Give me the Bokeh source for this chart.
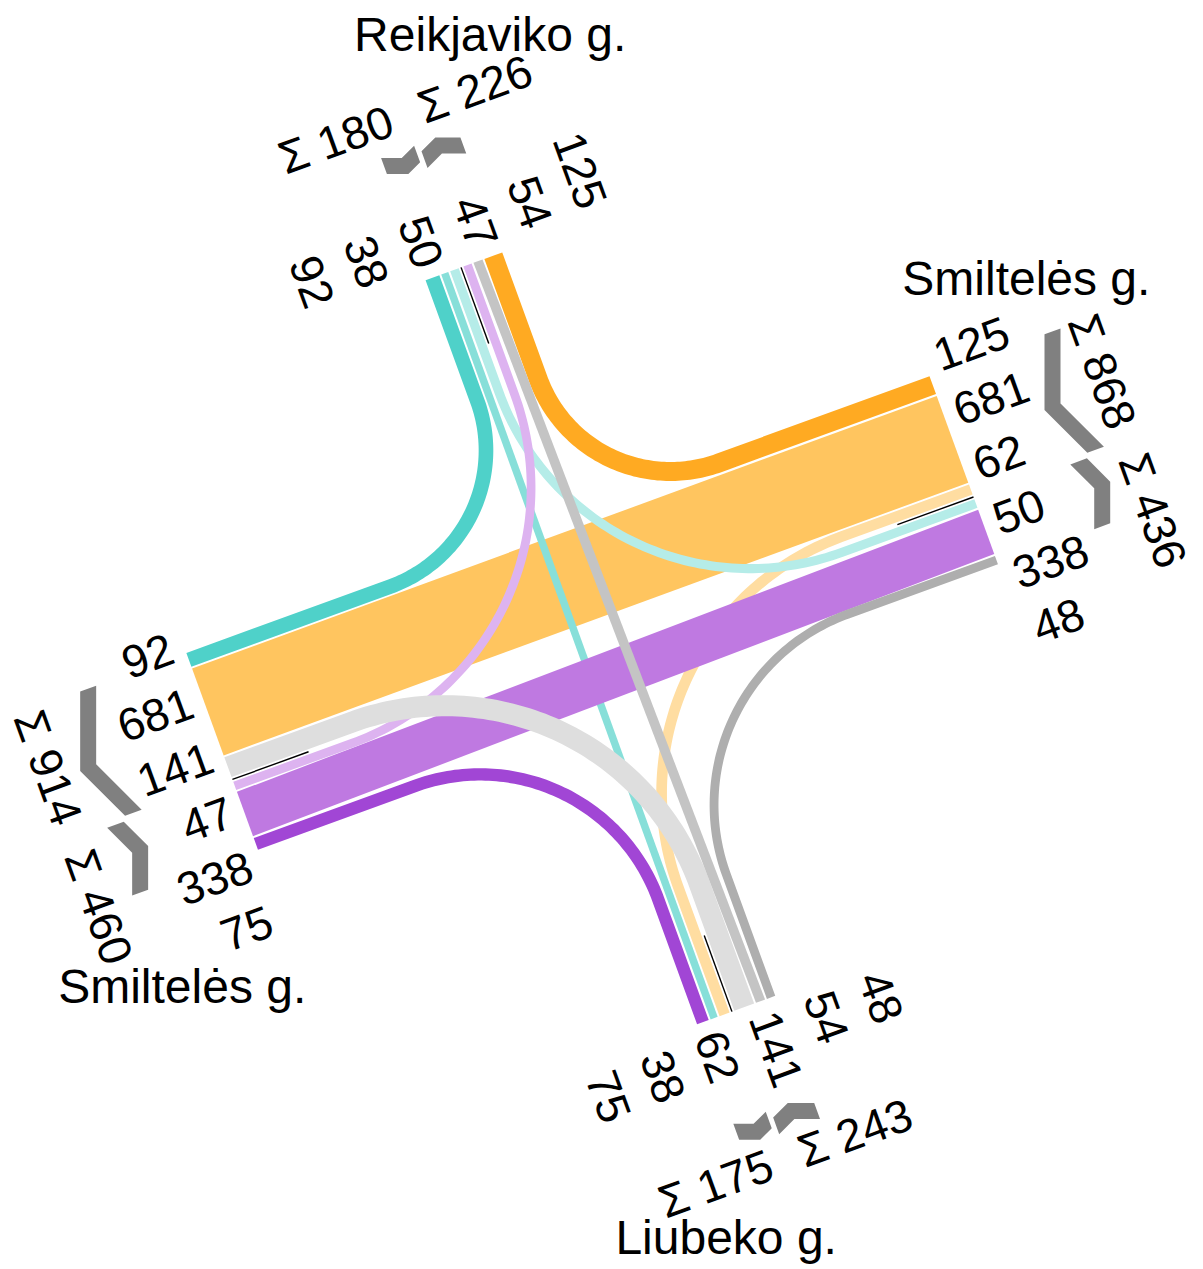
import numpy as np
from bokeh.plotting import figure
from bokeh.models import Range1d
from bokeh.embed import file_html
from bokeh.resources import INLINE
from bokeh.core.properties import value

# ---------------- data ----------------
approaches   = ["N", "E", "W", "S"]
street_names = ["Reikjaviko g.", "Smiltelės g.", "Smiltelės g.", "Liubeko g."]
flow_from = ["N", "N", "N", "E", "E", "E", "W", "W", "W", "S", "S", "S"]
flow_to   = ["W", "S", "E", "N", "W", "S", "N", "E", "S", "W", "N", "E"]
flow_vol  = [92, 38, 50, 125, 681, 62, 47, 338, 75, 141, 54, 48]

# ---------------- style ----------------
flow_colors = ["#4FD1C9", "#87DFD9", "#B5ECE8",
               "#FFAA22", "#FFC55F", "#FFDDA1",
               "#DDB3F0", "#BF79E1", "#A146D5",
               "#DEDEDE", "#C4C4C4", "#AEAEAE"]
LAYER = {"E": 0, "N": 1, "W": 2, "S": 3}   # drawing order of origins
ARROW_COLOR = "#808080"
FONT = value("Liberation Sans")
NUM_SIZE = value("46px")
NAME_SIZE = value("48px")

# ---------------- layout ----------------
ANG = np.deg2rad(20.0)
CO, SI = np.cos(ANG), np.sin(ANG)
CX, CY = 596.0, 630.0
DIRS = {"N": np.array([0.0, 1.0]), "E": np.array([1.0, 0.0]),
        "S": np.array([0.0, -1.0]), "W": np.array([-1.0, 0.0])}
CROSS = {"N": np.array([1.0, 0.0]), "S": np.array([1.0, 0.0]),
         "E": np.array([0.0, 1.0]), "W": np.array([0.0, 1.0])}
TSIGN = {"N": 1, "S": 1, "E": -1, "W": -1}
END = {"N": 396.0, "E": 403.0, "S": 396.0, "W": 390.0}
MEDIAN = {"N": 0.0, "E": 5.0, "S": 0.0, "W": -7.0}
SUM_DIST = {"N": 163.0, "E": 164.0, "S": 156.0, "W": 169.0}
NAME_POS = {"N": (107.0, 604.9), "E": (527.4, 192.2), "W": (-508.1, -184.8), "S": (-82.7, -606.3)}
GAP, MGAP = 2.0, 5.0
ARC_D = 265.0
LABEL_STEP = 58.0


def width(vol):
    return 0.132 * vol + 2.5


def to_data(p):
    u, v = p
    return CX + u * CO - v * SI, CY + u * SI + v * CO


def rot_vec(d):
    return np.array([d[0] * CO - d[1] * SI, d[0] * SI + d[1] * CO])


def turn_sign(b, a):
    t = -DIRS[b]
    d = DIRS[a]
    return t[0] * d[1] - t[1] * d[0]


def rot90(v):
    return np.array([-v[1], v[0]])


def intersect(p, d, q, e):
    M = np.array([[d[0], -e[0]], [d[1], -e[1]]])
    a, _ = np.linalg.solve(M, q - p)
    return p + a * d


n = len(flow_vol)
lat = {}
groups = {}
for A in approaches:
    t = -DIRS[A]
    r = np.array([t[1], -t[0]])
    s_out = float(r @ CROSS[A])
    outs = [i for i in range(n) if flow_from[i] == A]
    ins = [i for i in range(n) if flow_to[i] == A]
    outs.sort(key=lambda i: -turn_sign(A, flow_to[i]))
    ins.sort(key=lambda i: -turn_sign(flow_from[i], A))
    grp = []
    for members, sgn in ((outs, s_out), (ins, -s_out)):
        pos = MGAP / 2
        for i in members:
            w = width(flow_vol[i])
            lat[(i, A)] = MEDIAN[A] + sgn * (pos + w / 2)
            pos += w + GAP
        a_ = MEDIAN[A] + sgn * MGAP / 2
        b_ = MEDIAN[A] + sgn * (pos - GAP)
        total = sum(flow_vol[i] for i in members)
        grp.append((members, min(a_, b_), max(a_, b_), total))
    groups[A] = grp


def end_point(i, A):
    return DIRS[A] * END[A] + CROSS[A] * lat[(i, A)]


def flow_polygon(i):
    b, a = flow_from[i], flow_to[i]
    h = width(flow_vol[i]) / 2
    PB, PA = end_point(i, b), end_point(i, a)
    if turn_sign(b, a) == 0:
        X = CROSS[b]
        left = [PB + X * h, PA + X * h]
        right = [PB - X * h, PA - X * h]
    else:
        dB, dA = DIRS[b], DIRS[a]
        C = PB + ((PA - PB) @ dB) * dB
        R = ARC_D - max(C @ dB, C @ dA)
        T1, T2 = C + R * dB, C + R * dA
        O = C + R * (dB + dA)
        a1 = np.arctan2(*(T1 - O)[::-1])
        a2 = np.arctan2(*(T2 - O)[::-1])
        da = (a2 - a1 + np.pi) % (2 * np.pi) - np.pi
        angs = a1 + da * np.linspace(0, 1, 80)
        n1, n2 = rot90(-dB), rot90(dA)
        left = [PB + n1 * h, T1 + n1 * h]
        right = [PB - n1 * h, T1 - n1 * h]
        for ang in angs:
            radial = np.array([np.cos(ang), np.sin(ang)])
            nrm = -radial if da > 0 else radial
            pt = O + R * radial
            left.append(pt + nrm * h)
            right.append(pt - nrm * h)
        left += [T2 + n2 * h, PA + n2 * h]
        right += [T2 - n2 * h, PA - n2 * h]
    poly = left + right[::-1]
    xs, ys = zip(*[to_data(p) for p in poly])
    return list(xs), list(ys)


p = figure(width=1200, height=1266, x_range=Range1d(0, 1200), y_range=Range1d(3, 1269),
           toolbar_location=None, output_backend="svg", x_axis_type=None, y_axis_type=None,
           min_border=0)
p.outline_line_color = None
p.grid.visible = False
p.background_fill_color = "white"

# flows
order = sorted(range(n), key=lambda i: (LAYER[flow_from[i]], -flow_vol[i]))
fx, fy, fc = [], [], []
for i in order:
    xs, ys = flow_polygon(i)
    fx.append(xs)
    fy.append(ys)
    fc.append(flow_colors[i])
p.patches(xs=fx, ys=fy, fill_color=fc, line_color=None)

# median black lines
mx, my = [], []
for A in approaches:
    p0 = DIRS[A] * END[A] + CROSS[A] * MEDIAN[A]
    p1 = DIRS[A] * (END[A] - 81) + CROSS[A] * MEDIAN[A]
    x0, y0 = to_data(p0)
    x1, y1 = to_data(p1)
    mx.append([x0, x1])
    my.append([y0, y1])
p.multi_line(xs=mx, ys=my, line_color="black", line_width=1.4)

# number labels
for A in approaches:
    lanes = [i for i in range(n) if flow_from[i] == A or flow_to[i] == A]
    lanes.sort(key=lambda i: TSIGN[A] * lat[(i, A)])
    ang = np.deg2rad(-70) if A in ("N", "S") else np.deg2rad(20)
    align = {"N": "right", "S": "left", "E": "left", "W": "right"}[A]
    lx, ly, lt = [], [], []
    for k, i in enumerate(lanes):
        lateral = MEDIAN[A] + TSIGN[A] * (k - 2.5) * LABEL_STEP
        x, y = to_data(DIRS[A] * (END[A] + 12) + CROSS[A] * lateral)
        lx.append(x)
        ly.append(y)
        lt.append(str(flow_vol[i]))
    p.text(x=lx, y=ly, text=lt, angle=ang, text_align=align, text_baseline="middle",
           text_font=FONT, text_font_size=NUM_SIZE, text_color="black")

# sums and chevrons
for A in approaches:
    grp = sorted(groups[A], key=lambda g: TSIGN[A] * (g[1] + g[2]) / 2)
    ang = np.deg2rad(20) if A in ("N", "S") else np.deg2rad(-70)
    sx, sy, st = [], [], []
    D = rot_vec(DIRS[A])
    cxs, cys = [], []
    for k, (members, lo, hi, total) in enumerate(grp):
        lateral = MEDIAN[A] + TSIGN[A] * (-74 if k == 0 else 74)
        x, y = to_data(DIRS[A] * (END[A] + SUM_DIST[A]) + CROSS[A] * lateral)
        sx.append(x)
        sy.append(y)
        st.append("Σ " + str(total))
        Q1 = np.array(to_data(DIRS[A] * (END[A] + 118) + CROSS[A] * lo))
        Q2 = np.array(to_data(DIRS[A] * (END[A] + 118) + CROSS[A] * hi))
        S, E = (Q1, Q2) if Q1[0] < Q2[0] else (Q2, Q1)
        dx, dy = E - S
        axis_first = (k == 0)
        if A in ("E", "W"):
            if axis_first:
                B = S + np.array([0.0, dy - np.sign(dy) * abs(dx)])
            else:
                B = S + np.array([dx, np.sign(dy) * abs(dx)])
        else:
            if axis_first:
                B = S + np.array([dx - abs(dy), 0.0])
            else:
                B = S + np.array([abs(dy), dy])
        dev = (B - S) @ D
        shift = -dev / 2 * D
        S, B, E = S + shift, B + shift, E + shift
        h = 8.0
        t1 = (B - S) / np.linalg.norm(B - S)
        t2 = (E - B) / np.linalg.norm(E - B)
        n1, n2 = rot90(t1), rot90(t2)
        sides = {}
        for s in (1, -1):
            p1 = S + s * h * n1
            p2 = B + s * h * n2
            sides[s] = [intersect(p1, t1, S, D), intersect(p1, t1, p2, t2), intersect(p2, t2, E, D)]
        poly = sides[1] + sides[-1][::-1]
        cxs.append([q[0] for q in poly])
        cys.append([q[1] for q in poly])
    p.patches(xs=cxs, ys=cys, fill_color=ARROW_COLOR, line_color=None)
    p.text(x=sx, y=sy, text=st, angle=ang, text_align="center", text_baseline="middle",
           text_font=FONT, text_font_size=NUM_SIZE, text_color="black")

# street names
nx, ny, nt = [], [], []
for A, name in zip(approaches, street_names):
    x, y = to_data(np.array(NAME_POS[A]))
    nx.append(x)
    ny.append(y)
    nt.append(name)
p.text(x=nx, y=ny, text=nt, text_align="center", text_baseline="middle",
       text_font=FONT, text_font_size=NAME_SIZE, text_color="black")

open("out.html", "w").write(file_html(p, INLINE))
